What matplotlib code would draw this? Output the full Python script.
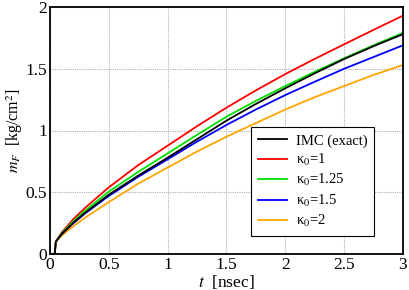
import matplotlib
matplotlib.use("Agg")
import matplotlib.pyplot as plt

# time axis [nsec]
t = [0, 0.04, 0.05, 0.1, 0.2, 0.3, 0.5, 0.75, 1, 1.25, 1.5, 1.75, 2, 2.25, 2.5, 2.75, 3]

# m_F [kg/cm^2]
imc_exact = [0, 0, 0.1, 0.16, 0.255, 0.335, 0.48, 0.635, 0.78, 0.93, 1.08, 1.215, 1.342, 1.463, 1.579, 1.683, 1.78]
kappa_1 = [0, 0, 0.1, 0.175, 0.284, 0.375, 0.54, 0.72, 0.877, 1.035, 1.185, 1.325, 1.457, 1.58, 1.698, 1.815, 1.93]
kappa_125 = [0, 0, 0.1, 0.168, 0.267, 0.352, 0.505, 0.665, 0.815, 0.965, 1.112, 1.24, 1.36, 1.475, 1.585, 1.69, 1.79]
kappa_15 = [0, 0, 0.1, 0.162, 0.25, 0.33, 0.47, 0.625, 0.767, 0.91, 1.045, 1.17, 1.287, 1.395, 1.50, 1.595, 1.69]
kappa_2 = [0, 0, 0.1, 0.15, 0.226, 0.295, 0.42, 0.57, 0.70, 0.83, 0.95, 1.06, 1.17, 1.27, 1.36, 1.45, 1.53]

labels = ["IMC (exact)", "κ$_0$=1", "κ$_0$=1.25", "κ$_0$=1.5", "κ$_0$=2"]
colors = ["black", "#ff0000", "#00e000", "#0000ff", "#ffa500"]

plt.rcParams['font.family'] = ['Liberation Serif', 'DejaVu Serif']
plt.rcParams['mathtext.fontset'] = 'stix'

fig = plt.figure(figsize=(4.09, 2.90), dpi=100)
ax = fig.add_axes([0.1222, 0.1241, 0.8631, 0.8518])

# draw kappa curves first, exact curve on top
series = [kappa_1, kappa_125, kappa_15, kappa_2]
handles = []
for ys, lab, col in zip(series, labels[1:], colors[1:]):
    h, = ax.plot(t, ys, color=col, lw=1.3, label=lab)
    handles.append(h)
h0, = ax.plot(t, imc_exact, color=colors[0], lw=1.3, label=labels[0])
handles = [h0] + handles

ax.set_xlim(0, 3)
ax.set_ylim(0, 2)
ax.set_xticks([0, 0.5, 1, 1.5, 2, 2.5, 3])
ax.set_xticklabels(["0", "0.5", "1", "1.5", "2", "2.5", "3"])
ax.set_yticks([0, 0.5, 1, 1.5, 2])
ax.set_yticklabels(["0", "0.5", "1", "1.5", "2"])
ax.tick_params(length=0, labelsize=12.5, pad=2)
ax.grid(True, color="#b0b0b0", linestyle=(0, (1, 1)), lw=0.8)
for s in ax.spines.values():
    s.set_linewidth(1.3)

ax.set_xlabel("$t$  [nsec]", fontsize=12.5, labelpad=0)
ax.set_ylabel("$m_F$  [kg/cm$^2$]", fontsize=11.5)
ax.yaxis.set_label_coords(-0.072, 0.5)

leg = ax.legend(handles=handles, loc="lower right", bbox_to_anchor=(0.918, 0.073),
                borderaxespad=0, fontsize=10.5, fancybox=False, framealpha=1,
                edgecolor="black", handlelength=2.0, borderpad=0.45,
                labelspacing=0.3, handletextpad=0.6)
leg.get_frame().set_linewidth(0.8)

fig.savefig("out.png", dpi=100)
